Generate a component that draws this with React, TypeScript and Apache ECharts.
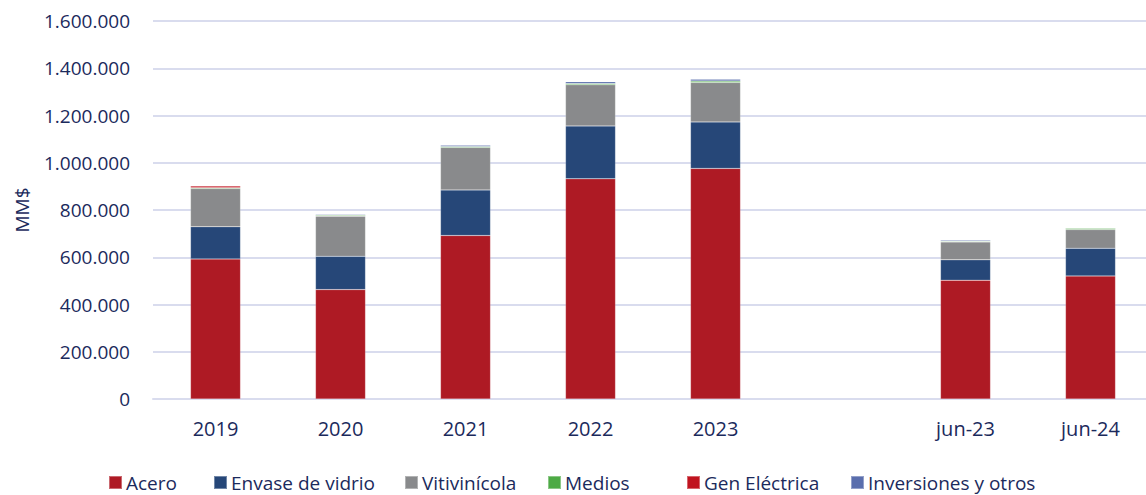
import React, { useEffect, useRef } from "react";
import * as echarts from "echarts";

const categories = ["2019", "2020", "2021", "2022", "2023", "", "jun-23", "jun-24"];
const seriesNames = ["Acero", "Envase de vidrio", "Vitivinícola", "Medios", "Gen Eléctrica", "Inversiones y otros"];
const acero = [593000, 463000, 692000, 932000, 976000, null, 503000, 521000];
const envase = [136000, 141000, 193000, 224000, 197000, null, 86000, 117000];
const viti = [162000, 170000, 180000, 174000, 167000, null, 76000, 79000];
const medios = [3000, 4000, 4000, 5000, 6000, null, 3000, 6000];
const genElectrica = [8000, 0, 0, 0, 0, null, 0, 0];
const inversiones = [2000, 3000, 5000, 8000, 7000, null, 4000, 2000];
const colors = ["#AE1A24", "#264778", "#898A8C", "#4DAA45", "#C0141F", "#5A6EAD"];
const yTicks = [0, 200000, 400000, 600000, 800000, 1000000, 1200000, 1400000, 1600000];

const fmt = (v: number) => v.toString().replace(/\B(?=(\d{3})+(?!\d))/g, ".");

export default function App() {
  const ref = useRef<HTMLDivElement>(null);
  useEffect(() => {
    if (!ref.current) return;
    const chart = echarts.init(ref.current, null, { renderer: "svg" });
    const font = "'Open Sans', 'Noto Sans', sans-serif";
    const textColor = "#1B2A5C";
    const dataSets = [acero, envase, viti, medios, genElectrica, inversiones];
    const legendLeft = [108, 213, 404, 547, 686, 850];
    chart.setOption({
      animation: false,
      textStyle: { fontFamily: font },
      grid: { left: 153, right: 7, top: 21, bottom: 96, containLabel: false },
      legend: seriesNames.map((name, i) => ({
        top: 472,
        left: legendLeft[i],
        padding: 0,
        itemWidth: 13,
        itemHeight: 13,
        itemGap: 0,
        icon: "rect",
        textStyle: { color: textColor, fontSize: 19, lineHeight: 21, fontFamily: font, padding: [0, 0, 0, -1] },
        data: [name],
      })),
      xAxis: {
        type: "category",
        data: categories,
        axisTick: { show: false },
        axisLine: { show: true, lineStyle: { color: "#D9DCEE", width: 2 } },
        axisLabel: { color: textColor, fontSize: 20, margin: 19, fontFamily: font },
      },
      yAxis: {
        type: "value",
        min: yTicks[0],
        max: yTicks[yTicks.length - 1],
        interval: 200000,
        name: "MM$",
        nameLocation: "middle",
        nameGap: 122,
        nameRotate: 90,
        nameTextStyle: { color: textColor, fontSize: 19, fontFamily: font },
        axisLabel: { color: textColor, fontSize: 19, margin: 23, formatter: (v: number) => fmt(v), fontFamily: font },
        splitLine: { lineStyle: { color: "#D9DCEE", width: 2 } },
        axisLine: { show: false },
        axisTick: { show: false },
      },
      series: seriesNames.map((name, i) => ({
        name,
        type: "bar",
        stack: "total",
        barWidth: "40%",
        data: dataSets[i],
        itemStyle: { color: colors[i], borderColor: "rgba(255,255,255,0.35)", borderWidth: 0.5 },
      })),
    });
    return () => chart.dispose();
  }, []);
  return (
    <div style={{ position: "absolute", left: 0, top: 0, width: 1146, height: 495, overflow: "hidden" }}>
      <div ref={ref} style={{ position: "absolute", left: 0, top: 0, width: 1160, height: 495 }} />
    </div>
  );
}
